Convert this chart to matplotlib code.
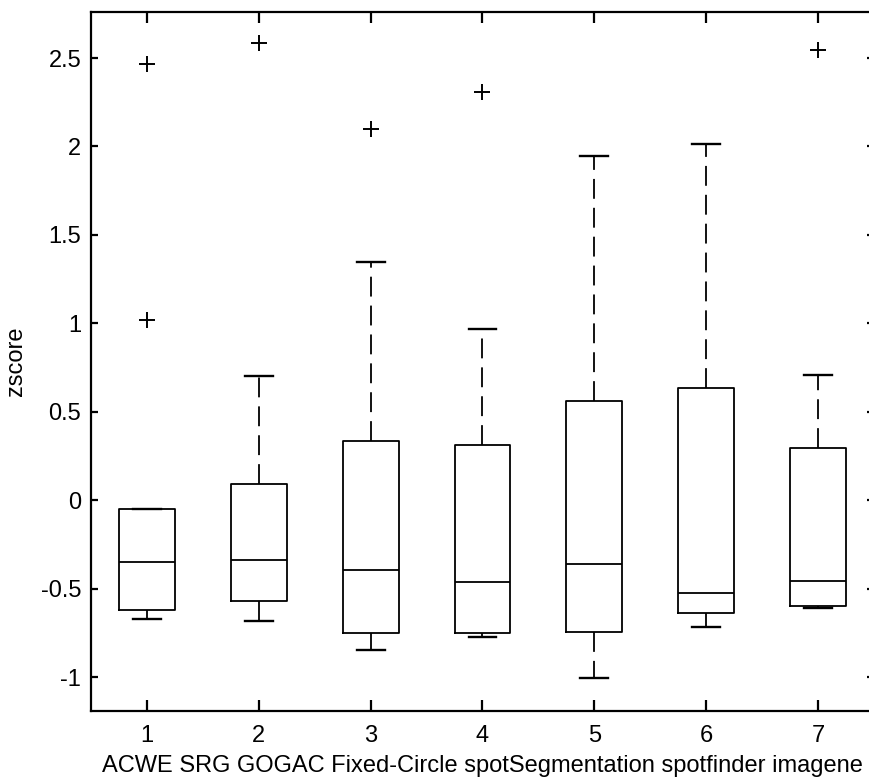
import matplotlib
matplotlib.use("Agg")
import matplotlib.pyplot as plt

plt.rcParams['font.family'] = ['Liberation Sans', 'DejaVu Sans']
plt.rcParams['axes.unicode_minus'] = False

# Per-method summary statistics of the z-scores
positions = [1, 2, 3, 4, 5, 6, 7]
q1 = [-0.617, -0.568, -0.751, -0.751, -0.743, -0.636, -0.598]
medians = [-0.348, -0.339, -0.395, -0.461, -0.361, -0.521, -0.455]
q3 = [-0.047, 0.090, 0.333, 0.312, 0.560, 0.634, 0.295]
whisker_low = [-0.672, -0.683, -0.843, -0.771, -1.005, -0.715, -0.606]
whisker_high = [-0.047, 0.702, 1.345, 0.969, 1.947, 2.015, 0.711]
outliers = [[1.020, 2.464], [2.586], [2.098], [2.310], [], [], [2.545]]

x_tick_labels = ['1', '2', '3', '4', '5', '6', '7']
y_ticks = [-1, -0.5, 0, 0.5, 1, 1.5, 2, 2.5]
y_tick_labels = ['-1', '-0.5', '0', '0.5', '1', '1.5', '2', '2.5']
x_label = 'ACWE SRG GOGAC Fixed-Circle spotSegmentation spotfinder imagene'
y_label = 'zscore'

W, H = 869, 781
fig = plt.figure(figsize=(W / 100, H / 100), dpi=100)
left, right, top, bottom = 91, 874, 12, 711
ax = fig.add_axes([left / W, 1 - bottom / H, (right - left) / W, (bottom - top) / H])

stats = []
for i in range(len(positions)):
    stats.append(dict(q1=q1[i], med=medians[i], q3=q3[i],
                      whislo=whisker_low[i], whishi=whisker_high[i],
                      fliers=outliers[i]))

lw = 1.3
ax.bxp(stats, positions=positions, widths=0.5, showfliers=True,
       boxprops=dict(color='black', linewidth=lw),
       medianprops=dict(color='black', linewidth=lw),
       whiskerprops=dict(color='black', linewidth=lw, linestyle=(0, (11, 5))),
       capprops=dict(color='black', linewidth=lw + 0.4),
       capwidths=0.25,
       flierprops=dict(marker='+', markersize=11, markeredgecolor='black',
                       markeredgewidth=1.4, linestyle='none'))

ax.set_xlim(0.5, 7.5)
ax.set_ylim(-1.19, 2.76)
ax.set_xticks(positions)
ax.set_xticklabels(x_tick_labels)
ax.set_yticks(y_ticks)
ax.set_yticklabels(y_tick_labels)

for s in ax.spines.values():
    s.set_linewidth(1.6)
    s.set_color('black')

ax.tick_params(axis='x', direction='in', length=8, width=1.6, top=True,
               labelsize=17, pad=10)
ax.tick_params(axis='y', direction='in', length=5, width=1.6, right=True,
               labelsize=17, pad=7)

ax.set_xlabel(x_label, fontsize=17, labelpad=6)
ax.set_ylabel(y_label, fontsize=17, labelpad=10)

fig.savefig('out.png', dpi=100)
